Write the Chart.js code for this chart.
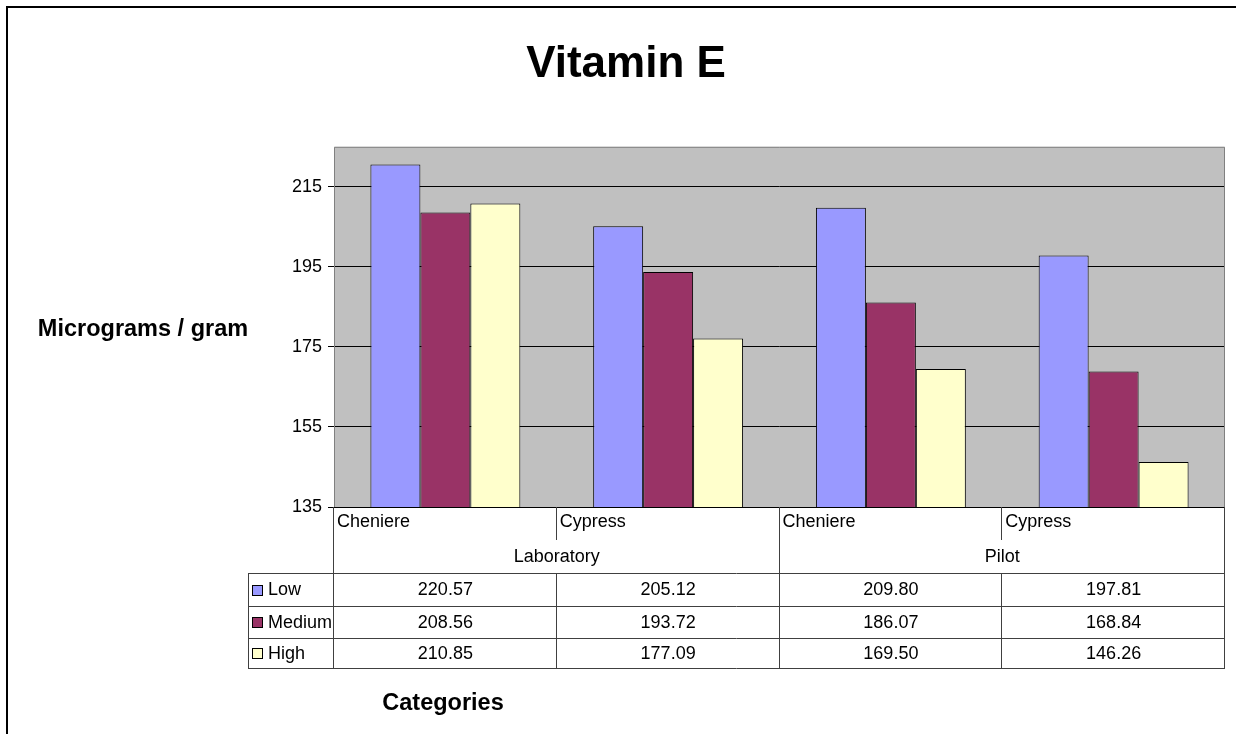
<!DOCTYPE html>
<html>
<head>
<meta charset="utf-8">
<title>Vitamin E</title>
<script src="https://cdn.jsdelivr.net/npm/chart.js@4"></script>
<style>
	body { margin: 0; background: #fff; }
	canvas { display: block; }
</style>
</head>
<body>
<canvas id="barChart" width="1236" height="734"></canvas>
<script>
var categories = ['Cheniere', 'Cypress', 'Cheniere', 'Cypress'];
var groups = ['Laboratory', 'Pilot'];
var seriesNames = ['Low', 'Medium', 'High'];
var lowValues = [220.57, 205.12, 209.80, 197.81];
var mediumValues = [208.56, 193.72, 186.07, 168.84];
var highValues = [210.85, 177.09, 169.50, 146.26];
var yTicks = [135, 155, 175, 195, 215];

var colors = ['#9999FF', '#993366', '#FFFFCC'];
var fontFamily = "Arial, 'Liberation Sans', sans-serif";
Chart.defaults.font.family = fontFamily;
Chart.defaults.color = '#000';

// gray plot area + outer frame
var backgroundPlugin = {
	id: 'plotBackground',
	beforeDraw: function(chart) {
		var ctx = chart.ctx, a = chart.chartArea;
		ctx.save();
		ctx.fillStyle = '#fff';
		ctx.fillRect(0, 0, chart.width, chart.height);
		ctx.lineWidth = 2;
		ctx.strokeStyle = '#000';
		ctx.strokeRect(7, 7, chart.width + 20, chart.height + 20);
		ctx.fillStyle = '#C0C0C0';
		ctx.fillRect(a.left, a.top, a.right - a.left, a.bottom - a.top);
		ctx.restore();
	},
	afterDatasetsDraw: function(chart) {
		var ctx = chart.ctx, a = chart.chartArea;
		ctx.save();
		ctx.strokeStyle = '#808080';
		ctx.lineWidth = 1;
		ctx.beginPath();
		ctx.moveTo(a.left + 0.5, a.bottom);
		ctx.lineTo(a.left + 0.5, a.top + 0.5);
		ctx.lineTo(a.right - 0.5, a.top + 0.5);
		ctx.lineTo(a.right - 0.5, a.bottom);
		ctx.stroke();
		ctx.strokeStyle = '#000';
		ctx.beginPath();
		ctx.moveTo(a.left, a.bottom + 0.5);
		ctx.lineTo(a.right, a.bottom + 0.5);
		ctx.stroke();
		ctx.restore();
	}
};

// category axis with groups, data table and the horizontal axis titles
var tablePlugin = {
	id: 'dataTable',
	afterDraw: function(chart) {
		var ctx = chart.ctx, a = chart.chartArea;
		var xs = chart.scales.x;
		var cw = (a.right - a.left) / categories.length;
		var rows = [573, 606, 638, 668];
		var tableLeft = 248;
		var values = [lowValues, mediumValues, highValues];
		var edges = [];
		for (var i = 0; i < categories.length; i++) {
			edges.push(xs.getPixelForValue(i) - cw / 2);
		}
		edges.push(a.right);

		ctx.save();
		ctx.strokeStyle = '#404040';
		ctx.lineWidth = 1;
		ctx.beginPath();
		edges.forEach(function(x, i) {
			var px = Math.round(x) - 0.5;
			if (i % 2 == 1 && i < categories.length) {
				ctx.moveTo(px, a.bottom); ctx.lineTo(px, 540);
				ctx.moveTo(px, rows[0]); ctx.lineTo(px, rows[3]);
			} else {
				ctx.moveTo(px, a.bottom); ctx.lineTo(px, rows[3]);
			}
		});
		ctx.moveTo(tableLeft + 0.5, rows[0]); ctx.lineTo(tableLeft + 0.5, rows[3]);
		rows.forEach(function(y) {
			ctx.moveTo(tableLeft, y + 0.5); ctx.lineTo(Math.round(a.right), y + 0.5);
		});
		ctx.stroke();

		ctx.fillStyle = '#000';
		ctx.font = '18px ' + fontFamily;
		ctx.textBaseline = 'middle';
		ctx.textAlign = 'left';
		categories.forEach(function(c, i) {
			ctx.fillText(c, edges[i] + 3, 522);
		});
		ctx.textAlign = 'center';
		groups.forEach(function(g, i) {
			ctx.fillText(g, (edges[i * 2] + edges[i * 2 + 2]) / 2, 557);
		});

		values.forEach(function(vals, r) {
			var cy = (rows[r] + rows[r + 1]) / 2 + 1;
			ctx.textAlign = 'center';
			vals.forEach(function(v, i) {
				ctx.fillText(v.toFixed(2), (edges[i] + edges[i + 1]) / 2, cy);
			});
			ctx.fillStyle = colors[r];
			ctx.fillRect(252, Math.round(cy) - 6, 11, 11);
			ctx.strokeStyle = '#000';
			ctx.strokeRect(252.5, Math.round(cy) - 5.5, 10, 10);
			ctx.fillStyle = '#000';
			ctx.textAlign = 'left';
			ctx.fillText(seriesNames[r], 268, cy);
		});

		ctx.font = 'bold 23.5px ' + fontFamily;
		ctx.textAlign = 'center';
		ctx.fillText('Micrograms / gram', 143, 330);
		ctx.fillText('Categories', 443, 704);
		ctx.restore();
	}
};

var barChart = new Chart(document.getElementById('barChart').getContext('2d'), {
	type: 'bar',
	data: {
		labels: categories,
		datasets: [
			{ label: seriesNames[0], data: lowValues, backgroundColor: colors[0] },
			{ label: seriesNames[1], data: mediumValues, backgroundColor: colors[1] },
			{ label: seriesNames[2], data: highValues, backgroundColor: colors[2] }
		]
	},
	options: {
		responsive: false,
		animation: false,
		layout: { padding: { top: 0, left: 27, right: 11, bottom: 0 } },
		datasets: {
			bar: {
				borderColor: '#000',
				borderWidth: 1,
				borderSkipped: false,
				categoryPercentage: 0.673,
				barPercentage: 1.0
			}
		},
		plugins: {
			legend: { display: false },
			tooltip: { enabled: false },
			title: {
				display: true,
				text: 'Vitamin E',
				color: '#000',
				font: { size: 44, weight: 'bold' },
				padding: { top: 38, bottom: 56 }
			}
		},
		scales: {
			x: {
				grid: { display: false },
				border: { display: false },
				ticks: { display: false },
				afterFit: function(scale) { scale.height = 227; }
			},
			y: {
				min: 135,
				max: 225,
				afterBuildTicks: function(scale) {
					scale.ticks = yTicks.map(function(v) { return { value: v }; });
				},
				ticks: { font: { size: 18 }, color: '#000', padding: 6 },
				grid: { color: '#000', tickLength: 6, drawTicks: true },
				border: { display: false },
				afterFit: function(scale) { scale.width = 307; }
			}
		}
	},
	plugins: [backgroundPlugin, tablePlugin]
});
</script>
</body>
</html>
